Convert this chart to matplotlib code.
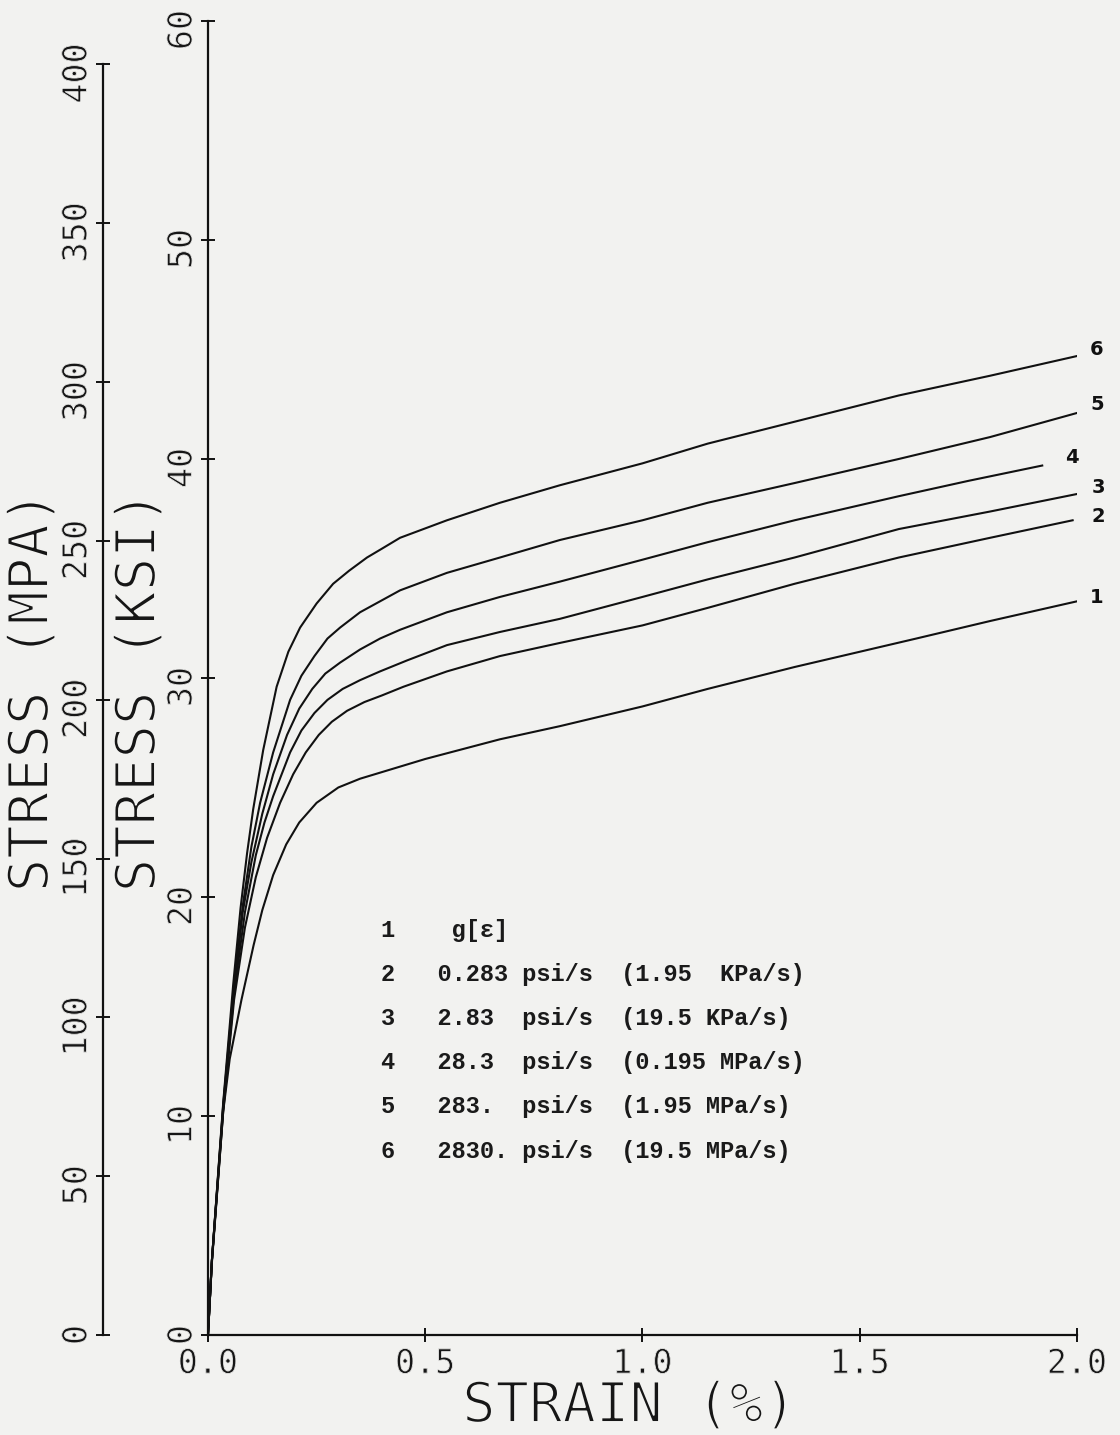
#Stress-strain curves at six loading rates, with ksi and MPa stress scales.
import matplotlib.pyplot as plt
import matplotlib.patheffects as pe
from matplotlib.transforms import ScaledTranslation

#Curve data (strain in %, stress in ksi).
strain1 = [0, 0.009, 0.035, 0.05, 0.077, 0.105, 0.125, 0.15, 0.18, 0.21, 0.25, 0.30, 0.35, 0.40, 0.50, 0.672, 0.81, 1.0, 1.15, 1.35, 1.63, 1.8, 2.0]
stress1 = [0, 3.3, 10.2, 12.6, 15.3, 17.8, 19.4, 21.0, 22.4, 23.4, 24.3, 25.0, 25.4, 25.7, 26.3, 27.2, 27.8, 28.7, 29.5, 30.5, 31.8, 32.6, 33.5]

strain2 = [0, 0.009, 0.035, 0.06, 0.085, 0.11, 0.136, 0.166, 0.196, 0.225, 0.255, 0.285, 0.32, 0.36, 0.40, 0.45, 0.55, 0.672, 0.81, 1.0, 1.15, 1.35, 1.59, 1.8, 1.99]
stress2 = [0, 3.4, 10.2, 15.3, 18.6, 20.9, 22.7, 24.3, 25.6, 26.6, 27.4, 28.0, 28.5, 28.9, 29.2, 29.6, 30.3, 31.0, 31.6, 32.4, 33.2, 34.3, 35.5, 36.4, 37.2]

strain3 = [0, 0.009, 0.035, 0.06, 0.085, 0.11, 0.13, 0.15, 0.189, 0.215, 0.245, 0.275, 0.31, 0.35, 0.396, 0.458, 0.55, 0.672, 0.81, 1.0, 1.15, 1.35, 1.59, 1.8, 2.0]
stress3 = [0, 3.4, 10.3, 15.6, 19.3, 21.9, 23.4, 24.6, 26.6, 27.6, 28.4, 29.0, 29.5, 29.9, 30.3, 30.8, 31.5, 32.1, 32.7, 33.7, 34.5, 35.5, 36.8, 37.6, 38.4]

strain4 = [0, 0.009, 0.035, 0.06, 0.08, 0.10, 0.125, 0.15, 0.182, 0.21, 0.24, 0.27, 0.304, 0.35, 0.396, 0.442, 0.55, 0.672, 0.81, 1.0, 1.15, 1.35, 1.59, 1.75, 1.92]
stress4 = [0, 3.4, 10.4, 15.8, 19.3, 21.6, 23.8, 25.6, 27.4, 28.6, 29.5, 30.2, 30.7, 31.3, 31.8, 32.2, 33.0, 33.7, 34.4, 35.4, 36.2, 37.2, 38.3, 39.0, 39.7]

strain5 = [0, 0.009, 0.035, 0.06, 0.08, 0.10, 0.12, 0.15, 0.189, 0.215, 0.245, 0.275, 0.304, 0.35, 0.396, 0.442, 0.55, 0.672, 0.81, 1.0, 1.15, 1.35, 1.59, 1.8, 2.0]
stress5 = [0, 3.4, 10.5, 16.0, 19.6, 22.3, 24.3, 26.6, 29.0, 30.1, 31.0, 31.8, 32.3, 33.0, 33.5, 34.0, 34.8, 35.5, 36.3, 37.2, 38.0, 38.9, 40.0, 41.0, 42.1]

strain6 = [0, 0.009, 0.035, 0.058, 0.075, 0.09, 0.104, 0.127, 0.158, 0.185, 0.212, 0.25, 0.288, 0.325, 0.366, 0.40, 0.442, 0.55, 0.672, 0.81, 1.0, 1.15, 1.35, 1.59, 1.8, 2.0]
stress6 = [0, 3.4, 10.6, 16.0, 19.5, 22.0, 24.0, 26.7, 29.6, 31.2, 32.3, 33.4, 34.3, 34.9, 35.5, 35.9, 36.4, 37.2, 38.0, 38.8, 39.8, 40.7, 41.7, 42.9, 43.8, 44.7]

curve_ids = ['1', '2', '3', '4', '5', '6']
legend_rows = [
    '1    g[\u03b5]',
    '2   0.283 psi/s  (1.95  KPa/s)',
    '3   2.83  psi/s  (19.5 KPa/s)',
    '4   28.3  psi/s  (0.195 MPa/s)',
    '5   283.  psi/s  (1.95 MPa/s)',
    '6   2830. psi/s  (19.5 MPa/s)',
]

x_ticks = [0.0, 0.5, 1.0, 1.5, 2.0]
ksi_ticks = [0, 10, 20, 30, 40, 50, 60]
mpa_ticks = [0, 50, 100, 150, 200, 250, 300, 350, 400]
KSI_TO_MPA = 6.894757

paper = '#f2f2f0'
ink = '#161616'
plot_font = 'DejaVu Sans Mono'

#thin the glyphs a bit to look like pen-plotter lettering
thin_small = [pe.Normal(), pe.Stroke(linewidth=0.6, foreground=paper)]
thin_big = [pe.Normal(), pe.Stroke(linewidth=1.4, foreground=paper)]

fig = plt.figure(figsize=(11.2, 14.35), dpi=100, facecolor=paper)
ax = fig.add_axes([0.1857, 0.0697, 0.7759, 0.9157])
ax.set_facecolor(paper)

curves = [(strain1, stress1), (strain2, stress2), (strain3, stress3),
          (strain4, stress4), (strain5, stress5), (strain6, stress6)]
label_offsets = [(20, 4), (26, 4), (21, 7), (30, 8), (20, 8), (20, 7)]

for (sx, sy), cid, off in zip(curves, curve_ids, label_offsets):
    ax.plot(sx, sy, color='#111111', linewidth=1.5)
    #number label just past the end of each curve
    ax.annotate(cid, xy=(sx[-1], sy[-1]), xytext=off, textcoords='offset pixels',
                ha='center', va='center', fontsize=14, fontweight='bold',
                family='DejaVu Sans', color='#111111')

ax.set_xlim(0, 2.0)
ax.set_ylim(0, 60)
for side in ['top', 'right']:
    ax.spines[side].set_visible(False)
for side in ['left', 'bottom']:
    ax.spines[side].set_linewidth(1.6)
    ax.spines[side].set_color('#111111')

ax.set_xticks(x_ticks)
ax.set_xticklabels(['%.1f' % v for v in x_ticks], family=plot_font, fontsize=24)
ax.set_yticks(ksi_ticks)
ax.set_yticklabels([str(v) for v in ksi_ticks], family=plot_font, fontsize=24, rotation=90, va='center')
ax.tick_params(direction='inout', length=9.5, width=1.4, color='#111111', labelcolor=ink)
ax.tick_params(axis='y', pad=2)
ax.tick_params(axis='x', pad=4)

#Second stress scale in MPa, further left.
sec = ax.secondary_yaxis(-0.121, functions=(lambda k: k * KSI_TO_MPA, lambda m: m / KSI_TO_MPA))
sec.set_yticks(mpa_ticks)
sec.set_yticklabels([str(v) for v in mpa_ticks], family=plot_font, fontsize=24, rotation=90, va='center')
sec.tick_params(direction='inout', length=9.5, width=1.4, color='#111111', labelcolor=ink, pad=2)
sec.spines['left'].set_bounds(0, 400)
sec.spines['left'].set_linewidth(1.6)
sec.spines['left'].set_color('#111111')

#the plotter put the longer y labels a little below their ticks
for lab in ax.get_yticklabels() + sec.get_yticklabels():
    if len(lab.get_text()) > 1:
        lab.set_transform(lab.get_transform() + ScaledTranslation(0, -9 / 100, fig.dpi_scale_trans))
for lab in ax.get_yticklabels() + sec.get_yticklabels() + ax.get_xticklabels():
    lab.set_path_effects(thin_small)

#Axis titles drawn as figure text so they sit between the tick labels like the original.
title_kw = dict(family=plot_font, fontsize=40, color=ink, path_effects=thin_big)
fig.text(140 / 1120, 1 - 692 / 1435, 'STRESS (KSI)', rotation=90, ha='center', va='center', **title_kw)
fig.text(33 / 1120, 1 - 692 / 1435, 'STRESS (MPA)', rotation=90, ha='center', va='center', **title_kw)
fig.text(629 / 1120, 1 - 1407 / 1435, 'STRAIN (%)', ha='center', va='center', **title_kw)

#Rate key in typewriter text.
for i, row in enumerate(legend_rows):
    ax.text(0.199, 0.3075 - i * 0.0335, row, transform=ax.transAxes, ha='left', va='center',
            family='Liberation Mono', fontsize=17, fontweight='bold', color='#1a1a1a')

fig.savefig('out.png', dpi=100, facecolor=paper)
